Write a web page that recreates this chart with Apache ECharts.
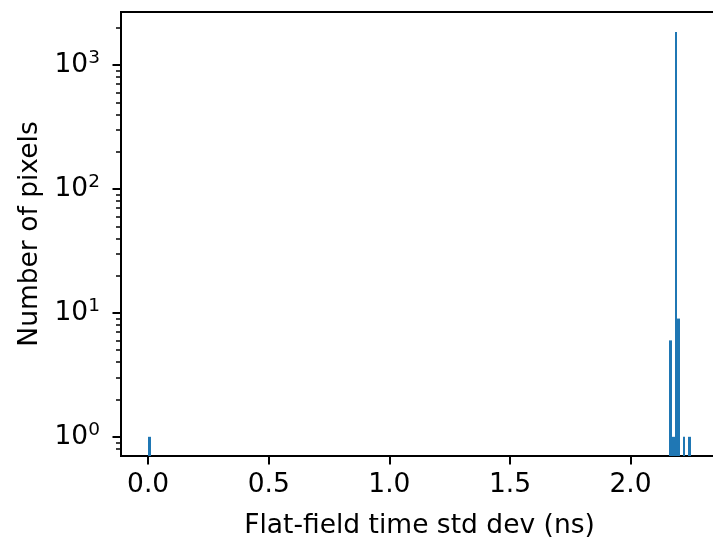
<!DOCTYPE html>
<html>
<head>
<meta charset="utf-8">
<script src="https://cdn.jsdelivr.net/npm/echarts@6/dist/echarts.min.js"></script>
<style>
html, body { margin: 0; padding: 0; background: #fff; }
#chart { width: 713px; height: 537px; }
</style>
</head>
<body>
<div id="chart"></div>
<script>
// histogram bins (left edge) and counts
var binLeft = [0.0, 2.16, 2.17125, 2.1825, 2.19375, 2.21625, 2.23875];
var counts = [1, 6, 1, 1846, 9, 1, 1];
var binWidth = 0.01125;

var xTicks = [0, 0.5, 1.0, 1.5, 2.0];
var yMajor = [1, 10, 100, 1000];
var yMinor = [0.8, 0.9, 2, 3, 4, 5, 6, 7, 8, 9, 20, 30, 40, 50, 60, 70, 80, 90,
	200, 300, 400, 500, 600, 700, 800, 900, 2000];

var yMin = 0.7, yMax = 2680;
var font = 'DejaVu Sans';
var fs = 26.5;

var data = [];
for (var i = 0; i < counts.length; i++)
	data.push([binLeft[i], counts[i]]);

var chart = echarts.init(document.getElementById('chart'));

var options =
{
	animation: false,
	textStyle: { fontFamily: font },
	grid:
	{
		left: 121, top: 12, width: 597, height: 444,
		outerBoundsMode: 'none', containLabel: false,
		show: true, borderColor: '#000', borderWidth: 2, backgroundColor: 'transparent'
	},
	xAxis:
	{
		type: 'value', min: -0.1125, max: 2.3625,
		name: 'Flat-field time std dev (ns)', nameLocation: 'middle', nameGap: 57,
		nameTextStyle: { fontSize: fs, color: '#000', fontFamily: font },
		splitLine: { show: false },
		axisLine: { onZero: false, lineStyle: { color: '#000', width: 2 } },
		axisTick: { customValues: xTicks, length: 8.5, lineStyle: { color: '#000', width: 2 } },
		axisLabel:
		{
			customValues: xTicks, margin: 16, fontSize: fs, color: '#000', fontFamily: font,
			formatter: function(v) { return v.toFixed(1); }
		}
	},
	yAxis:
	[
		{
			type: 'log', min: yMin, max: yMax, logBase: 10, position: 'left',
			name: 'Number of pixels', nameLocation: 'middle', nameGap: 76,
			nameTextStyle: { fontSize: fs, color: '#000', fontFamily: font },
			splitLine: { show: false },
			axisLine: { show: true, onZero: false, lineStyle: { color: '#000', width: 2 } },
			axisTick: { customValues: yMajor, length: 8.5, lineStyle: { color: '#000', width: 2 } },
			axisLabel:
			{
				customValues: yMajor, margin: 21, color: '#000',
				formatter: function(v) { return '{b|10}{s|' + Math.round(Math.log10(v)) + '}'; },
				rich:
				{
					b: { fontSize: fs, fontFamily: font, color: '#000' },
					s: { fontSize: 18.5, fontFamily: font, color: '#000', padding: [0, 0, 14, 0] }
				}
			}
		},
		{
			type: 'log', min: yMin, max: yMax, logBase: 10, position: 'left', offset: 0,
			splitLine: { show: false },
			axisLine: { show: false, onZero: false },
			axisTick: { customValues: yMinor, length: 5, lineStyle: { color: '#000', width: 1.5 } },
			axisLabel: { show: false }
		}
	],
	series:
	[
		{
			type: 'custom',
			clip: true,
			data: data,
			encode: { x: 0, y: 1 },
			renderItem: function(params, api)
			{
				var x0 = api.value(0);
				var p0 = api.coord([x0, yMin]);
				var p1 = api.coord([x0 + binWidth, api.value(1)]);
				var left = Math.round(p0[0]);
				var right = Math.round(p1[0]);
				return {
					type: 'rect',
					shape: { x: left, y: p1[1], width: right - left, height: p0[1] - p1[1] },
					style: { fill: '#1f77b4' }
				};
			}
		}
	]
};

chart.setOption(options);
</script>
</body>
</html>
